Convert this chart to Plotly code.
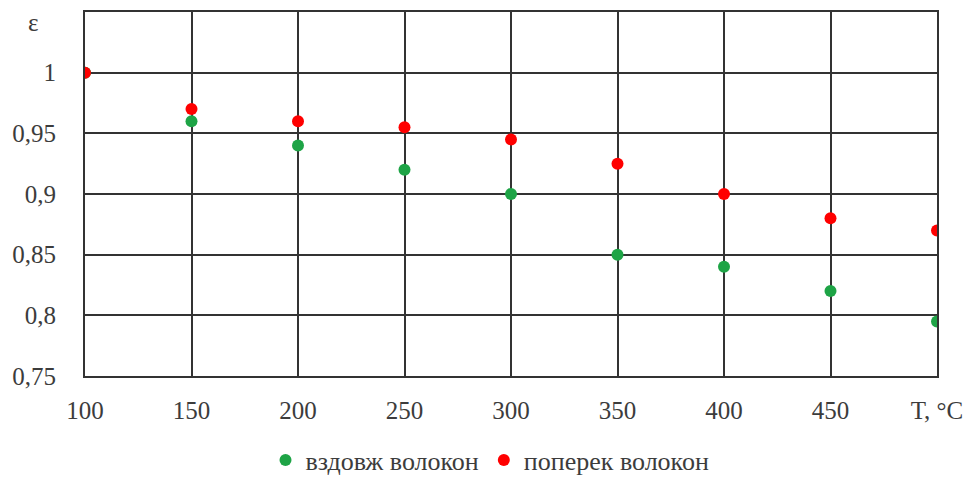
import plotly.graph_objects as go

# Temperature, °C
temperature = [100, 150, 200, 250, 300, 350, 400, 450, 500]
# Emissivity along the fibres
eps_along = [1.0, 0.96, 0.94, 0.92, 0.90, 0.85, 0.84, 0.82, 0.795]
# Emissivity across the fibres
eps_across = [1.0, 0.97, 0.96, 0.955, 0.945, 0.925, 0.90, 0.88, 0.87]

x_tickvals = [100, 150, 200, 250, 300, 350, 400, 450, 500]
x_ticktext = ["100", "150", "200", "250", "300", "350", "400", "450", "T, °C"]
y_tickvals = [0.75, 0.80, 0.85, 0.90, 0.95, 1.00, 1.05]
y_ticktext = ["0,75", "0,8", "0,85", "0,9", "0,95", "1", ""]

font_family = "Liberation Serif, Times New Roman, serif"
text_color = "#3c3c3c"
grid_color = "#333333"

W, H = 968, 477
ML, MR, MT, MB = 85, 31, 12, 101
plot_w = W - ML - MR
plot_h = H - MT - MB

fig = go.Figure()
fig.add_trace(go.Scatter(
    x=temperature, y=eps_along, mode="markers", name="вздовж волокон",
    marker=dict(color="#1ea446", size=12),
))
fig.add_trace(go.Scatter(
    x=temperature, y=eps_across, mode="markers", name="поперек волокон",
    marker=dict(color="#ff0000", size=12),
))

fig.update_layout(
    width=W, height=H,
    margin=dict(l=ML, r=MR, t=MT, b=MB, autoexpand=False),
    paper_bgcolor="white", plot_bgcolor="white",
    font=dict(family=font_family, size=25, color=text_color),
    showlegend=True,
    legend=dict(
        orientation="h", x=(490 - ML) / plot_w, xanchor="center",
        y=(MT + plot_h - 460) / plot_h, yanchor="middle",
        font=dict(family=font_family, size=26, color=text_color),
        itemwidth=30,
    ),
    annotations=[
        # y-axis title drawn above the tick labels
        dict(text="ε", x=(33 - ML) / plot_w, y=(MT + plot_h - 22) / plot_h,
             xref="paper", yref="paper", showarrow=False,
             xanchor="center", yanchor="middle",
             font=dict(family=font_family, size=25, color=text_color)),
    ],
)

fig.update_xaxes(
    range=[100, 500], tickvals=x_tickvals, ticktext=x_ticktext,
    showgrid=True, gridcolor=grid_color, gridwidth=2,
    showline=True, linecolor=grid_color, linewidth=2, mirror=True,
    zeroline=False, ticks="", ticklabelstandoff=11, automargin=False,
)
fig.update_yaxes(
    range=[0.75, 1.05], tickvals=y_tickvals, ticktext=y_ticktext,
    showgrid=True, gridcolor=grid_color, gridwidth=2,
    showline=True, linecolor=grid_color, linewidth=2, mirror=True,
    zeroline=False, ticks="", ticklabelstandoff=22, automargin=False,
)

fig.write_html("out.html")
